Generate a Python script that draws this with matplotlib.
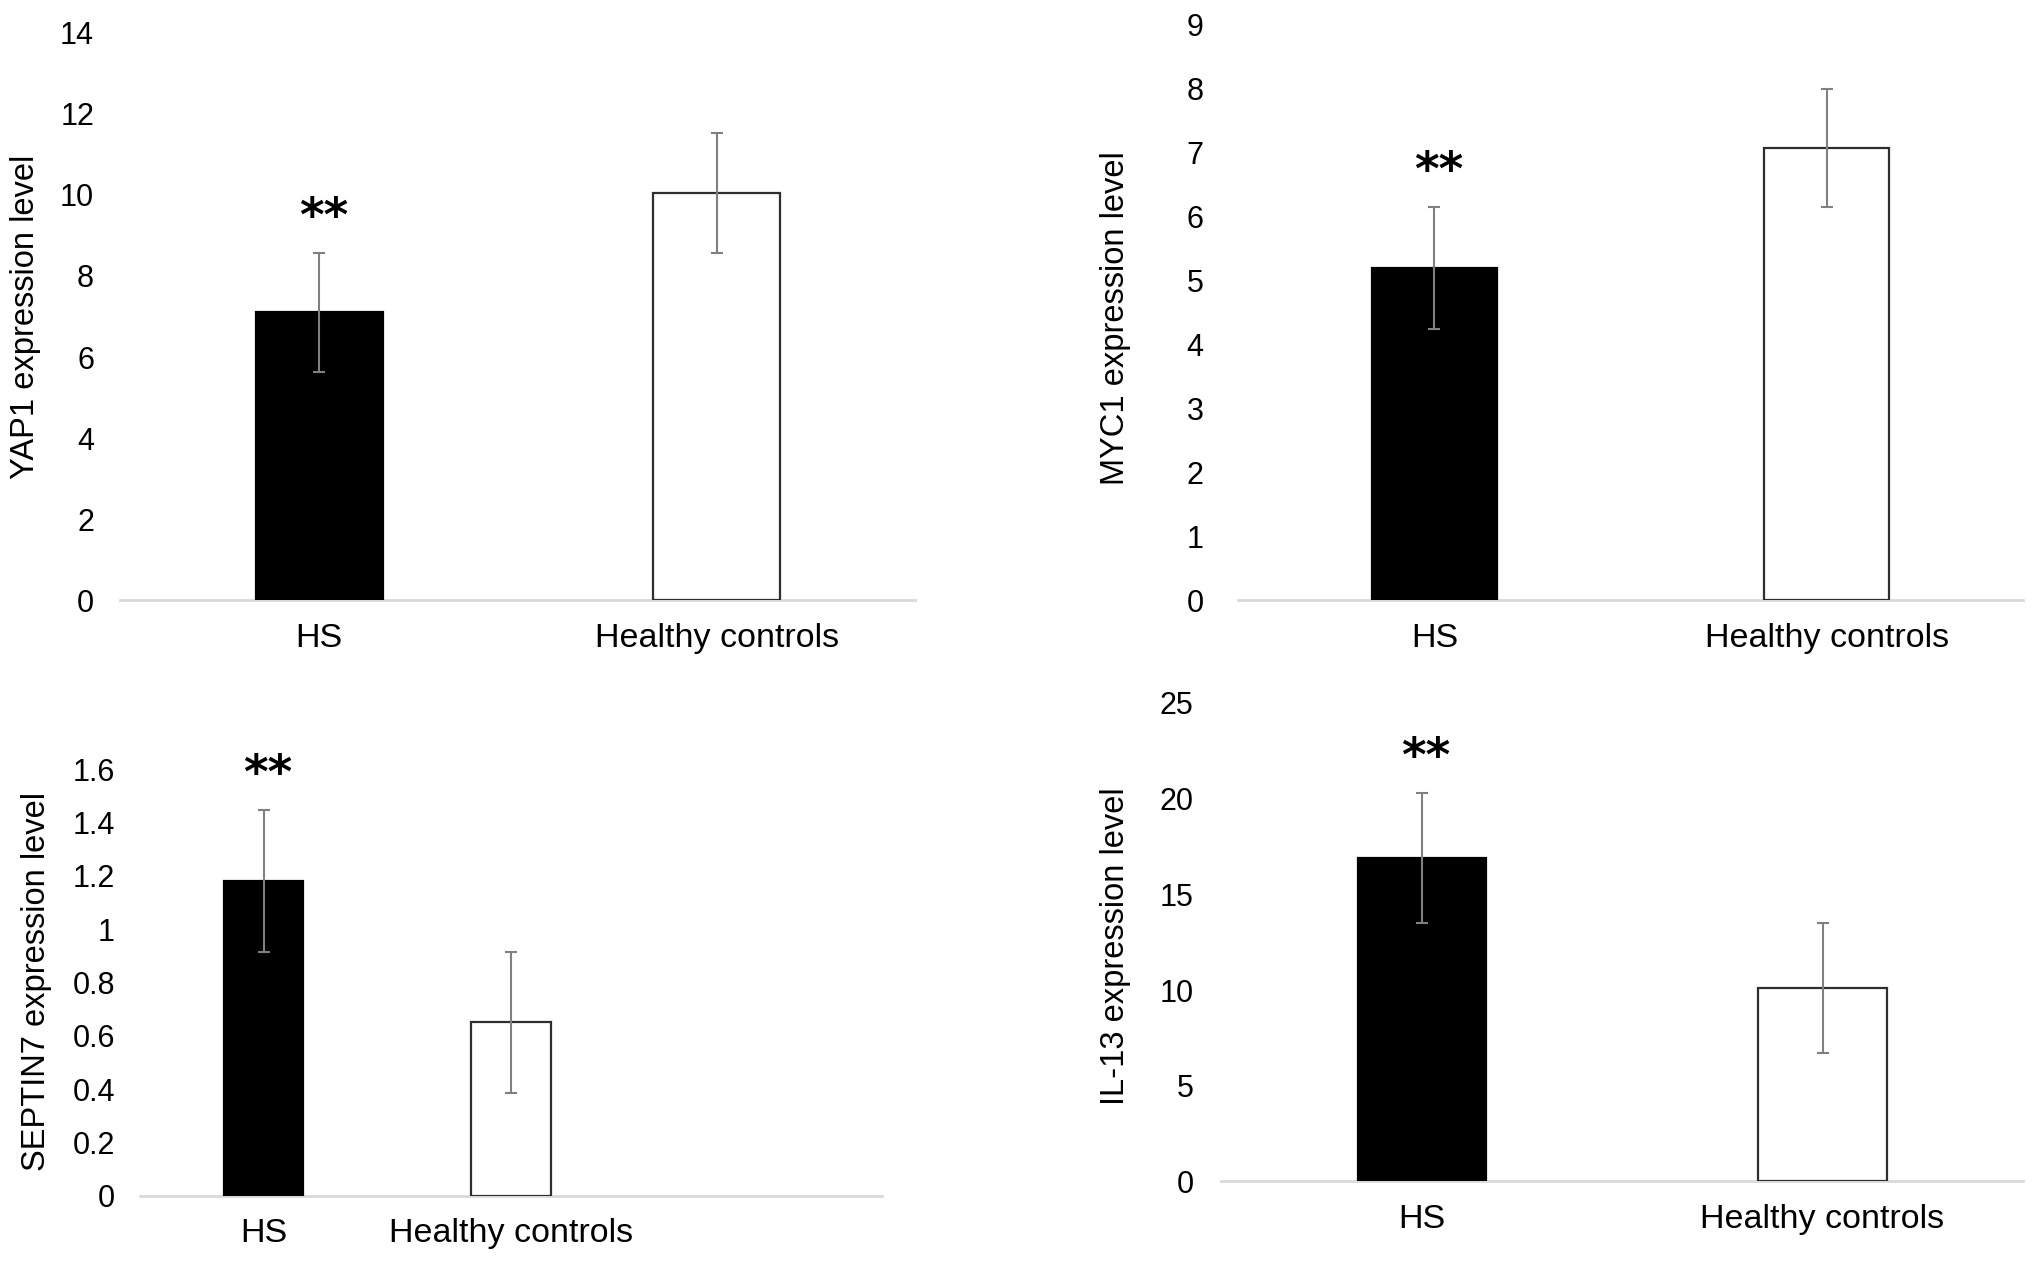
import matplotlib
matplotlib.use("Agg")
import matplotlib.pyplot as plt
from matplotlib.ticker import FuncFormatter

plt.rcParams['font.family'] = ['Liberation Sans', 'DejaVu Sans']

categories = ['HS', 'Healthy controls']

yap1_mean = [7.1, 10.05]
yap1_err = [1.47, 1.48]

myc1_mean = [5.2, 7.07]
myc1_err = [0.95, 0.92]

septin7_mean = [1.18, 0.65]
septin7_err = [0.265, 0.265]

il13_mean = [16.9, 10.1]
il13_err = [3.4, 3.4]

panels = [
    # axes rect, ylabel, means, errs, ymax, ystep, n slots, ylabel pos, tick pad
    ([0.0593, 0.5261, 0.3912, 0.4483], 'YAP1 expression level', yap1_mean, yap1_err, 14, 2, 2, (0.0125, 0.750), 19),
    ([0.6094, 0.5261, 0.3861, 0.4545], 'MYC1 expression level', myc1_mean, myc1_err, 9, 1, 2, (0.5490, 0.749), 25),
    ([0.0689, 0.0563, 0.3651, 0.3367], 'SEPTIN7 expression level', septin7_mean, septin7_err, 1.6, 0.2, 3, (0.0180, 0.225), 18),
    ([0.6011, 0.0675, 0.3944, 0.3777], 'IL-13 expression level', il13_mean, il13_err, 25, 5, 2, (0.5490, 0.253), 20),
]

fig = plt.figure(figsize=(20.32, 12.67), dpi=100)

for rect, ylabel, means, errs, ymax, ystep, nslots, lpos, pad in panels:
    ax = fig.add_axes(rect)
    x = list(range(len(categories)))
    ax.bar(x, means, width=0.32, color=['black', 'white'],
           edgecolor=['black', '#2e2e2e'], linewidth=1.6, zorder=2)
    ax.errorbar(x, means, yerr=errs, fmt='none', ecolor='#808080',
                elinewidth=1.5, capsize=4, capthick=1.5, zorder=3)
    # significance marker above the HS bar
    ax.annotate('**', xy=(x[0], means[0] + errs[0]), xytext=(3, 25),
                textcoords='offset points', ha='center', va='center',
                fontsize=34, fontweight='bold', family='DejaVu Sans',
                annotation_clip=False)
    ax.set_xlim(-0.5, nslots - 0.5)
    ax.set_ylim(0, ymax)
    n_ticks = int(round(ymax / ystep))
    ax.set_yticks([i * ystep for i in range(n_ticks + 1)])
    ax.yaxis.set_major_formatter(FuncFormatter(lambda v, p: '{:g}'.format(round(v, 2))))
    ax.set_xticks(x)
    ax.set_xticklabels(categories, fontsize=24.5)
    ax.tick_params(axis='y', length=0, pad=pad, labelsize=22)
    ax.tick_params(axis='x', length=0, pad=16)
    for s in ['top', 'right', 'left']:
        ax.spines[s].set_visible(False)
    ax.spines['bottom'].set_color('#d9d9d9')
    ax.spines['bottom'].set_linewidth(2)
    ax.spines['bottom'].set_zorder(1)
    fig.text(lpos[0], lpos[1], ylabel, rotation=90, ha='center', va='center',
             fontsize=23.5)

fig.savefig('out.png', dpi=100)
